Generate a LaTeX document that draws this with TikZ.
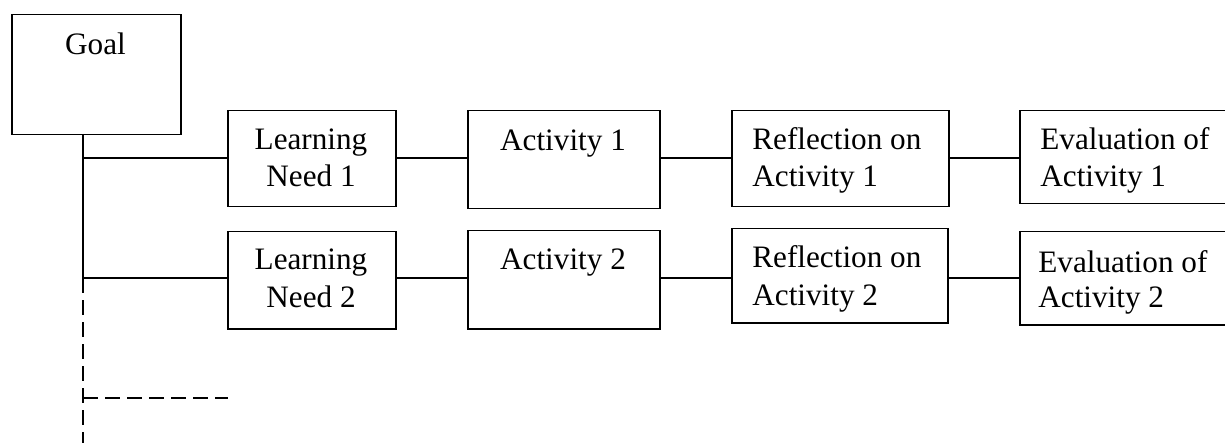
\documentclass[tikz,border=0pt]{standalone}
\usepackage{fontspec}
\setmainfont{Liberation Serif}
\begin{document}
\begin{tikzpicture}[x=0.5pt,y=-0.5pt,
  box/.style={draw,line width=0.75pt,inner sep=0pt},
  lbl/.style={inner sep=0pt,font=\fontsize{15.6}{18.5}\selectfont},
  conn/.style={line width=0.75pt},
  dashline/.style={line width=0.75pt,dash pattern=on 7.5pt off 3.5pt}]
\clip (0,0) rectangle (1225,443);
% boxes
\node[box,minimum width=84.5pt,minimum height=60pt,anchor=north west] (goal) at (11,14) {};
\node[box,minimum width=84pt,minimum height=48pt,anchor=north west] (ln1) at (227,110) {};
\node[box,minimum width=84pt,minimum height=48.5pt,anchor=north west] (ln2) at (227,231) {};
\node[box,minimum width=96pt,minimum height=49pt,anchor=north west] (a1) at (467,110) {};
\node[box,minimum width=96pt,minimum height=49pt,anchor=north west] (a2) at (467,230) {};
\node[box,minimum width=108.5pt,minimum height=48pt,anchor=north west] (r1) at (731,110) {};
\node[box,minimum width=108pt,minimum height=47pt,anchor=north west] (r2) at (731,228) {};
\node[box,minimum width=140pt,minimum height=46.5pt,anchor=north west] (e1) at (1019,110) {};
\node[box,minimum width=140pt,minimum height=46.5pt,anchor=north west] (e2) at (1019,231) {};
% texts
\node[lbl,anchor=base] (tgoal) at (95.5,55) {Goal};
\node[lbl,anchor=base] (tln1a) at (311,150) {Learning};
\node[lbl,anchor=base] (tln1b) at (311,187) {Need 1};
\node[lbl,anchor=base] (tln2a) at (311,270) {Learning};
\node[lbl,anchor=base] (tln2b) at (311,307) {Need 2};
\node[lbl,anchor=base] (ta1) at (563,151) {Activity 1};
\node[lbl,anchor=base] (ta2) at (563,270) {Activity 2};
\node[lbl,anchor=base west] (tr1a) at (752,150) {Reflection on};
\node[lbl,anchor=base west] (tr1b) at (752,187) {Activity 1};
\node[lbl,anchor=base west] (tr2a) at (752,268) {Reflection on};
\node[lbl,anchor=base west] (tr2b) at (752,305) {Activity 2};
\node[lbl,anchor=base west] (te1a) at (1040,150) {Evaluation of};
\node[lbl,anchor=base west] (te1b) at (1040,187) {Activity 1};
\node[lbl,anchor=base west] (te2a) at (1038,272) {Evaluation of};
\node[lbl,anchor=base west] (te2b) at (1038,307) {Activity 2};
% junction coordinates
\coordinate (top) at (83,134);
\coordinate (j1) at (83,158);
\coordinate (j2) at (83,278);
\coordinate (j3) at (83,398);
\coordinate (bot) at (83,450);
\coordinate (d3) at (228,398);
% connectors
\draw[conn] (top) -- (j1) -- (j2);
\draw[conn] (j1) -- (ln1.west |- j1);
\draw[conn] (j2) -- (ln2.west |- j2);
\draw[dashline] (j2) -- (bot);
\draw[dashline] (j3) -- (d3);
\draw[conn] (ln1.east |- j1) -- (a1.west |- j1);
\draw[conn] (a1.east |- j1) -- (r1.west |- j1);
\draw[conn] (r1.east |- j1) -- (e1.west |- j1);
\draw[conn] (ln2.east |- j2) -- (a2.west |- j2);
\draw[conn] (a2.east |- j2) -- (r2.west |- j2);
\draw[conn] (r2.east |- j2) -- (e2.west |- j2);
\end{tikzpicture}
\end{document}
